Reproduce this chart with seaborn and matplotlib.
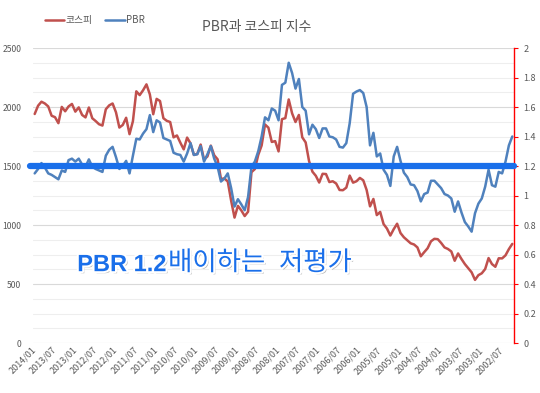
"""
PBR vs KOSPI chart (monthly, newest month on the left).
Writes out.png.
"""

import numpy as np
import pandas as pd
import matplotlib
matplotlib.use("Agg")
import matplotlib.pyplot as plt
import matplotlib.patheffects as pe
from matplotlib.ticker import MultipleLocator, FuncFormatter
import seaborn as sns

# months, newest first (2014/01 ... 2002/04)
MONTHS = [d.strftime("%Y/%m")
          for d in pd.date_range("2002-04-01", "2014-01-01", freq="MS")][::-1]

KOSPI = [
    1941, 2011, 2045, 2030, 2005, 1926, 1914, 1863, 2001, 1964,
    2005, 2026, 1961, 1997, 1933, 1912, 1996, 1905, 1881, 1854,
    1843, 1981, 2014, 2030, 1955, 1826, 1848, 1909, 1770, 1880,
    2133, 2101, 2142, 2192, 2107, 1939, 2069, 2051, 1905, 1883,
    1873, 1743, 1759, 1698, 1641, 1741, 1692, 1594, 1602, 1682,
    1555, 1581, 1673, 1591, 1557, 1390, 1395, 1369, 1206, 1063,
    1162, 1124, 1076, 1113, 1448, 1474, 1594, 1674, 1852, 1825,
    1704, 1711, 1624, 1897, 1906, 2064, 1946, 1873, 1933, 1743,
    1700, 1542, 1452, 1417, 1360, 1434, 1432, 1364, 1371, 1352,
    1297, 1295, 1317, 1419, 1359, 1371, 1399, 1379, 1297, 1158,
    1221, 1084, 1111, 1008, 970, 911, 965, 1011, 932, 896,
    870, 845, 835, 810, 735, 770, 803, 862, 883, 880,
    848, 810, 797, 776, 697, 759, 712, 669, 634, 599,
    535, 575, 591, 627, 720, 669, 646, 718, 717, 743,
    796, 840,
]

PBR = [
    1.15, 1.18, 1.22, 1.19, 1.15, 1.14, 1.125, 1.11, 1.17, 1.16,
    1.24, 1.25, 1.23, 1.25, 1.21, 1.195, 1.245, 1.195, 1.18, 1.17,
    1.16, 1.27, 1.31, 1.33, 1.26, 1.18, 1.20, 1.235, 1.15, 1.27,
    1.385, 1.38, 1.42, 1.45, 1.545, 1.43, 1.51, 1.495, 1.39, 1.38,
    1.37, 1.29, 1.28, 1.275, 1.23, 1.285, 1.355, 1.275, 1.28, 1.335,
    1.23, 1.28, 1.335, 1.25, 1.195, 1.095, 1.115, 1.15, 1.05, 0.925,
    0.975, 0.94, 0.90, 0.99, 1.195, 1.23, 1.30, 1.40, 1.53, 1.51,
    1.59, 1.575, 1.51, 1.75, 1.765, 1.90, 1.83, 1.725, 1.79, 1.60,
    1.575, 1.415, 1.48, 1.45, 1.39, 1.455, 1.455, 1.40, 1.395, 1.38,
    1.33, 1.325, 1.355, 1.49, 1.69, 1.705, 1.715, 1.695, 1.60, 1.34,
    1.425, 1.265, 1.285, 1.175, 1.14, 1.065, 1.265, 1.33, 1.235, 1.155,
    1.125, 1.075, 1.07, 1.03, 0.96, 1.01, 1.02, 1.10, 1.10, 1.075,
    1.05, 1.01, 1.0, 0.98, 0.89, 0.96, 0.885, 0.82, 0.79, 0.755,
    0.88, 0.945, 0.98, 1.06, 1.175, 1.07, 1.06, 1.16, 1.15, 1.23,
    1.34, 1.40,
]

PBR_LINE = 1.2
LABEL_EVERY = 6

RED = "#C0504D"
BLUE = "#4F81BD"
BRIGHT = "#1A6FEA"
GREY = "#595959"


def main():
    df = pd.DataFrame({"month": MONTHS, "kospi": KOSPI, "pbr": PBR})
    df["pos"] = np.arange(len(df))

    sns.set_style("white")
    plt.rcParams["font.family"] = ["Noto Sans CJK KR", "DejaVu Sans"]

    fig = plt.figure(figsize=(5.4, 3.93), dpi=100)
    ax = fig.add_axes([0.0611, 0.1272, 0.8907, 0.7506])
    ax2 = ax.twinx()

    sns.lineplot(data=df, x="pos", y="kospi", ax=ax, color=RED, lw=1.8,
                 label="코스피", legend=False)
    sns.lineplot(data=df, x="pos", y="pbr", ax=ax2, color=BLUE, lw=1.8,
                 label="PBR", legend=False)

    # left axis (KOSPI)
    ax.set_xlim(-0.5, len(df) - 0.5)
    ax.set_ylim(0, 2500)
    ax.yaxis.set_major_locator(MultipleLocator(500))
    ax.yaxis.set_minor_locator(MultipleLocator(125))
    ax.grid(which="major", axis="y", color="#d9d9d9", lw=0.8)
    ax.grid(which="minor", axis="y", color="#eeeeee", lw=0.8)
    ax.tick_params(axis="y", which="both", length=0, labelsize=6.2,
                   labelcolor=GREY, pad=8.5)
    ax.set_xticks(df["pos"][::LABEL_EVERY])
    ax.set_xticklabels(df["month"][::LABEL_EVERY], rotation=45, ha="right",
                       va="center", rotation_mode="anchor")
    ax.tick_params(axis="x", length=0, labelsize=6.5, labelcolor=GREY, pad=4)
    ax.set_xlabel("")
    ax.set_ylabel("")
    for s in ax.spines.values():
        s.set_visible(False)

    # right axis (PBR)
    ax2.set_ylim(0, 2)
    ax2.yaxis.set_major_locator(MultipleLocator(0.2))
    ax2.yaxis.set_major_formatter(
        FuncFormatter(lambda v, _: f"{v:.1f}".rstrip("0").rstrip(".")))
    ax2.tick_params(axis="y", length=3, width=0.8, color="red", direction="out",
                    labelsize=6.5, labelcolor=GREY, pad=4)
    ax2.set_ylabel("")
    for name, s in ax2.spines.items():
        s.set_visible(name == "right")
    ax2.spines["right"].set_color("red")
    ax2.spines["right"].set_linewidth(1)

    # PBR 1.2 threshold
    ax2.plot([-0.007, 1.0], [PBR_LINE, PBR_LINE],
             transform=ax2.get_yaxis_transform(), color=BRIGHT, lw=4.5,
             solid_capstyle="round", clip_on=False, zorder=5)

    effects = [pe.SimplePatchShadow(offset=(1.5, -1.5), shadow_rgbFace="#888888",
                                    alpha=0.6),
               pe.Stroke(linewidth=3, foreground="white"), pe.Normal()]
    t1 = fig.text(0.143, 0.31, f"PBR {PBR_LINE}", fontsize=17, weight="bold",
                  color=BRIGHT, family=["Liberation Sans", "DejaVu Sans"],
                  va="baseline", path_effects=effects)
    t2 = ax.annotate("배이하는", xy=(1, 0), xycoords=t1, va="bottom",
                     xytext=(1, 0), textcoords="offset points",
                     fontsize=19, color=BRIGHT, path_effects=effects)
    ax.annotate("저평가", xy=(1, 0), xycoords=t2, va="bottom",
                xytext=(10, 0), textcoords="offset points",
                fontsize=19, color=BRIGHT, path_effects=effects)

    fig.text(0.476, 0.931, "PBR과 코스피 지수", ha="center", va="center",
             fontsize=10, color=GREY)
    handles = [ax.lines[0], ax2.lines[0]]
    fig.legend(handles, ["코스피", "PBR"], loc="center left",
               bbox_to_anchor=(0.083, 0.949), ncol=2, frameon=False,
               fontsize=7, labelcolor=GREY, handlelength=2.0,
               handletextpad=0.15, columnspacing=1.3, borderpad=0,
               borderaxespad=0)

    fig.savefig("out.png", dpi=100)
    plt.close(fig)


if __name__ == "__main__":
    main()
